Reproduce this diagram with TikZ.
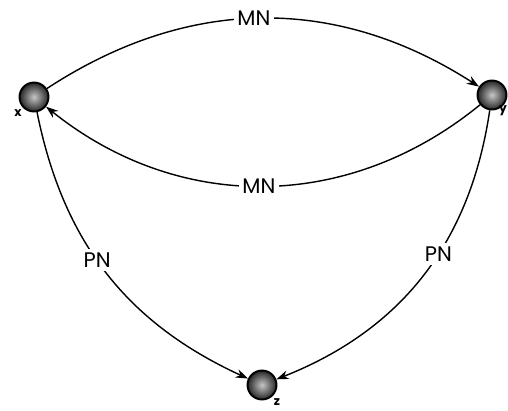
\documentclass[tikz,border=0pt]{standalone}
\usepackage{fontspec}
\setsansfont{Poppins}
\usetikzlibrary{arrows.meta}
\begin{document}
\begin{tikzpicture}[x=0.02cm,y=-0.02cm,
  vertex/.style={circle,draw=black,line width=1.1pt,minimum size=0.58cm,inner sep=0pt,inner color=gray!45,outer color=black!85},
  vlabel/.style={font=\sffamily\bfseries\scriptsize,inner sep=0pt},
  elabel/.style={font=\sffamily\large,fill=white,inner sep=2pt},
  rel/.style={line width=0.8pt,-{Stealth[length=7pt,width=5pt]}}]
\useasboundingbox (0,0) rectangle (508,410);
\node[vertex] (x) at (34,97) {};
\node[vertex] (y) at (492,95) {};
\node[vertex] (z) at (262,385) {};
\node[vlabel] (lx) at (18,113) {x};
\node[vlabel] (ly) at (503,111) {y};
\node[vlabel] (lz) at (277,402) {z};
\draw[rel] (x) to[bend left=33] node[elabel,pos=0.48] (m1) {MN} (y);
\draw[rel] (y) to[bend left=39] node[elabel,pos=0.51] (m2) {MN} (x);
\draw[rel] (x) to[bend right=27] node[elabel,pos=0.45] (p1) {PN} (z);
\draw[rel] (y) to[bend left=30] node[elabel,pos=0.42] (p2) {PN} (z);
\end{tikzpicture}
\end{document}
